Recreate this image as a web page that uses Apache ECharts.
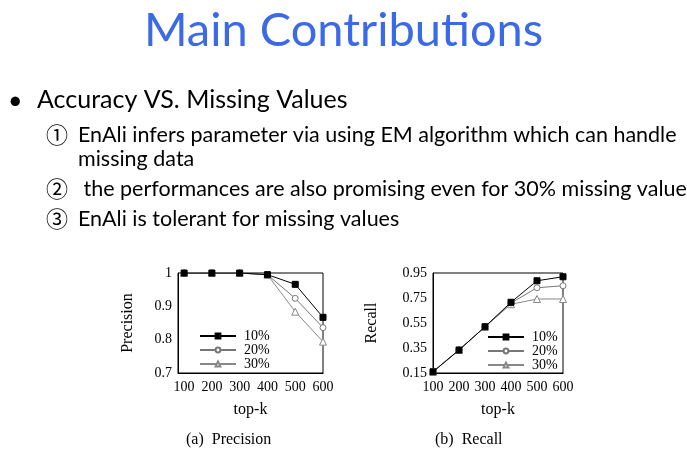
<!DOCTYPE html>
<html>
<head>
<meta charset="utf-8">
<script src="https://cdn.jsdelivr.net/npm/echarts@6/dist/echarts.min.js"></script>
<style>
  html, body { margin: 0; padding: 0; background: #fff; }
  #main { width: 687px; height: 458px; }
</style>
</head>
<body>
<div id="main"></div>
<script>
// x values (top-k)
var topK = [100, 200, 300, 400, 500, 600];
var seriesNames = ['10%', '20%', '30%'];

// precision for 10%, 20%, 30% missing values
var precision10 = [1, 1, 1, 0.995, 0.966, 0.867];
var precision20 = [1, 1, 1, 0.995, 0.924, 0.836];
var precision30 = [1, 1, 1, 0.995, 0.884, 0.794];

// recall
var recall10 = [0.16, 0.334, 0.52, 0.716, 0.888, 0.92];
var recall20 = [0.16, 0.334, 0.52, 0.71, 0.832, 0.848];
var recall30 = [0.16, 0.334, 0.52, 0.70, 0.742, 0.742];

var precisionTicks = [0.7, 0.8, 0.9, 1];
var recallTicks = [0.15, 0.35, 0.55, 0.75, 0.95];

var serif = '"Liberation Serif", "DejaVu Serif", serif';
var sans = 'Lato, "Noto Sans CJK SC", sans-serif';
var cjk = '"Noto Sans CJK SC", sans-serif';

function pairs(ys) {
  return ys.map(function (y, i) { return [topK[i], y]; });
}

var styles = [
  { symbol: 'rect', color: '#000', fill: '#000', size: 6 },
  { symbol: 'circle', color: '#777', fill: '#fff', size: 6 },
  { symbol: 'triangle', color: '#888', fill: '#fff', size: 7 }
];

function makeSeries(idx, values, k) {
  var s = styles[k];
  return {
    name: seriesNames[k],
    type: 'line',
    xAxisIndex: idx,
    yAxisIndex: idx,
    data: pairs(values),
    symbol: s.symbol,
    symbolSize: s.size,
    showAllSymbol: true,
    z: 10 - k,
    lineStyle: { color: s.color, width: 1 },
    itemStyle: { color: s.fill, borderColor: s.color, borderWidth: 1 },
    emphasis: { disabled: true }
  };
}

function xAxis(idx, min) {
  return {
    type: 'value',
    gridIndex: idx,
    min: min,
    max: 600,
    name: 'top-k',
    nameLocation: 'middle',
    nameGap: 29,
    nameTextStyle: { fontFamily: serif, fontSize: 16, color: '#000' },
    splitLine: { show: false },
    axisLine: { lineStyle: { color: '#000' } },
    axisTick: { show: false },
    axisLabel: {
      customValues: topK,
      fontFamily: serif, fontSize: 14, color: '#000', margin: 7
    }
  };
}

function yAxis(idx, name, ticks, gap) {
  return {
    type: 'value',
    gridIndex: idx,
    min: ticks[0],
    max: ticks[ticks.length - 1],
    name: name,
    nameLocation: 'middle',
    nameGap: gap,
    nameTextStyle: { fontFamily: serif, fontSize: 16, color: '#000' },
    splitLine: { show: false },
    axisLine: { lineStyle: { color: '#000' } },
    axisTick: { show: false },
    axisLabel: {
      customValues: ticks,
      fontFamily: serif, fontSize: 14, color: '#000', margin: 6
    }
  };
}

function legend(left, top) {
  return {
    data: seriesNames,
    orient: 'vertical',
    left: left,
    top: top,
    padding: 0,
    itemWidth: 36,
    itemHeight: 6,
    itemGap: 0,
    selectedMode: false,
    textStyle: { fontFamily: serif, fontSize: 14, lineHeight: 14, color: '#000', padding: [0, 0, 0, 3] }
  };
}

// numbered point line: circled digit from the CJK font, rest in Lato
function point(top, left, text) {
  return {
    type: 'text', left: left, top: top,
    style: {
      text: text,
      fontFamily: sans, fontSize: 21.5, fill: '#000',
      rich: { d: { fontFamily: cjk, fontSize: 22, fill: '#000', width: 32 } }
    }
  };
}

var chart = echarts.init(document.getElementById('main'));
chart.setOption({
  backgroundColor: '#fff',
  animation: false,
  grid: [
    { left: 178, top: 273, width: 145, height: 100, show: true, borderColor: '#000', borderWidth: 1 },
    { left: 433, top: 273, width: 130, height: 100, show: true, borderColor: '#000', borderWidth: 1 }
  ],
  xAxis: [xAxis(0, 78), xAxis(1, 100)],
  yAxis: [
    yAxis(0, 'Precision', precisionTicks, 42),
    yAxis(1, 'Recall', recallTicks, 53)
  ],
  legend: [legend(199, 329), legend(487, 330)],
  series: [
    makeSeries(0, precision30, 2),
    makeSeries(0, precision20, 1),
    makeSeries(0, precision10, 0),
    makeSeries(1, recall30, 2),
    makeSeries(1, recall20, 1),
    makeSeries(1, recall10, 0)
  ],
  graphic: [
    { type: 'text', left: 'center', top: 7,
      style: { text: 'Main Contributions', fontFamily: sans, fontSize: 47, fill: '#3b6ae6',
        shadowColor: 'rgba(59,106,230,0.35)', shadowBlur: 4 } },
    { type: 'text', left: 8, top: 88, style: { text: '•', fontFamily: sans, fontSize: 25, fill: '#000' } },
    { type: 'text', left: 37, top: 87, style: { text: 'Accuracy VS. Missing Values', fontFamily: sans, fontSize: 25, fill: '#000' } },
    point(124, 46, '{d|\u2460}EnAli infers parameter via using EM algorithm which can handle'),
    { type: 'text', left: 78, top: 148, style: { text: 'missing data', fontFamily: sans, fontSize: 21.5, fill: '#000' } },
    point(178, 46, '{d|\u2461} the performances are also promising even for 30% missing value'),
    point(208, 46, '{d|\u2462}EnAli is tolerant for missing values'),
    { type: 'text', left: 186, top: 432, style: { text: '(a)  Precision', fontFamily: serif, fontSize: 16, fill: '#000' } },
    { type: 'text', left: 435, top: 432, style: { text: '(b)  Recall', fontFamily: serif, fontSize: 16, fill: '#000' } }
  ]
});
</script>
</body>
</html>
